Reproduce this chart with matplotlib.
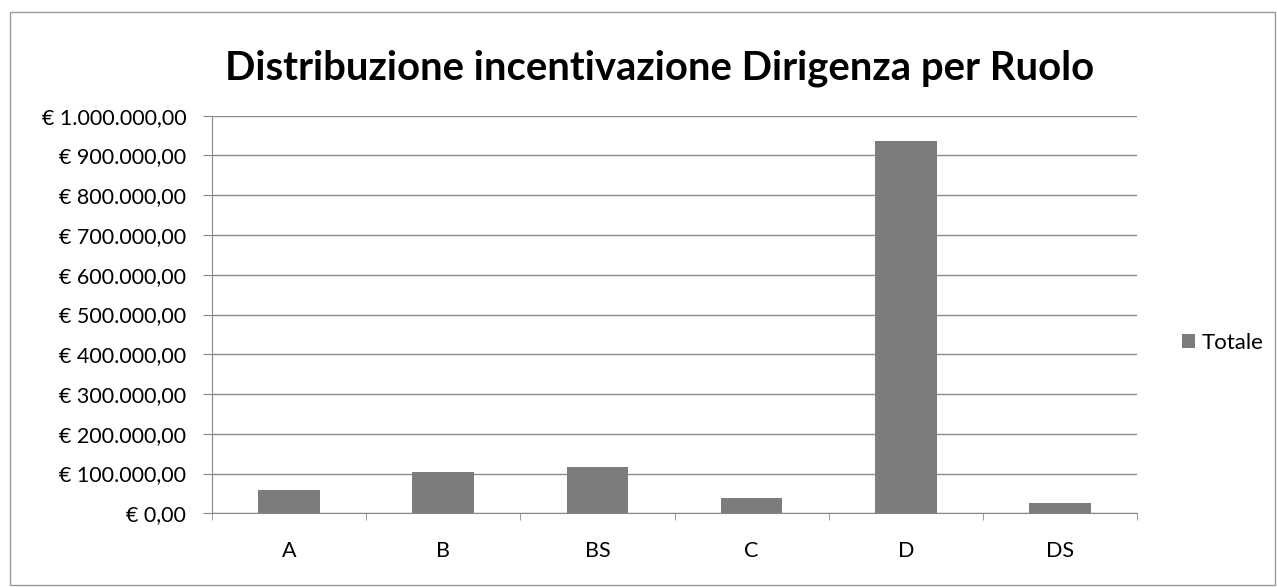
import matplotlib.pyplot as plt
from matplotlib.ticker import FuncFormatter, MultipleLocator
from matplotlib.patches import Rectangle

plt.rcParams['font.family'] = ['Lato', 'DejaVu Sans']

categorie = ['A', 'B', 'BS', 'C', 'D', 'DS']
totale = [59000, 103000, 116000, 38000, 937000, 25000]

titolo = 'Distribuzione incentivazione Dirigenza per Ruolo'


def euro(v, pos):
    s = '{:,.2f}'.format(v)
    s = s.replace(',', 'X').replace('.', ',').replace('X', '.')
    return '€ ' + s


fig = plt.figure(figsize=(12.77, 5.87), dpi=100)
ax = fig.add_axes([212 / 1277, 1 - 513.3 / 587, 925 / 1277, (513.3 - 115.7) / 587])

x = range(len(categorie))
ax.bar(x, totale, width=0.4, color='#7c7c7c', label='Totale', zorder=3)

ax.set_xlim(-0.5, len(categorie) - 0.5)
ax.set_ylim(0, 1000000)
ax.yaxis.set_major_locator(MultipleLocator(100000))
ax.yaxis.set_major_formatter(FuncFormatter(euro))
ax.set_xticks(list(x))
ax.set_xticklabels(categorie)
ax.set_xticks([i + 0.5 for i in range(-1, len(categorie))], minor=True)
ax.tick_params(axis='x', which='major', length=0, pad=20, labelsize=15.5)
ax.tick_params(axis='x', which='minor', length=5, color='#888888', direction='out')
ax.tick_params(axis='y', length=6.5, color='#888888', labelsize=15.5, pad=12)

ax.grid(axis='y', color='#8c8c8c', linewidth=1, zorder=0)
for side in ['top', 'right']:
    ax.spines[side].set_visible(False)
ax.spines['left'].set_color('#888888')
ax.spines['bottom'].set_color('#888888')

fig.text(660 / 1277, 1 - 68 / 587, titolo, ha='center', va='center',
         fontsize=28.8, fontweight='bold', color='black')

leg = fig.legend(loc='center left', bbox_to_anchor=(1162 / 1277, 1 - 343 / 587),
                 frameon=False, fontsize=16, handlelength=0.6, handleheight=0.6,
                 handletextpad=0.3)

# bordo del grafico
fig.patches.append(Rectangle((10 / 1277, 2 / 587), 1265 / 1277, 573 / 587,
                             transform=fig.transFigure, fill=False,
                             edgecolor='#9a9a9a', linewidth=1))

fig.savefig('out.png', dpi=100)
